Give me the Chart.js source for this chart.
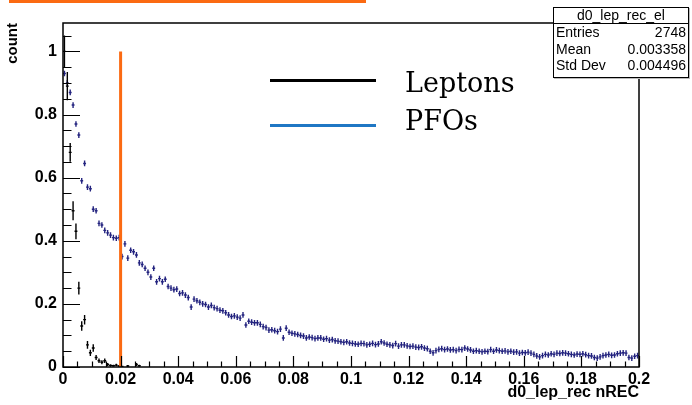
<!DOCTYPE html>
<html>
<head>
<meta charset="utf-8">
<script src="https://cdn.jsdelivr.net/npm/chart.js@4.4.1/dist/chart.umd.min.js"></script>
<style>
  html,body{margin:0;padding:0;background:#fff;}
  #wrap{position:relative;width:692px;height:405px;overflow:hidden;background:#fff;}
  canvas{position:absolute;left:0;top:0;}
  .topbar{position:absolute;left:9px;top:0;width:357px;height:3px;background:#fb6a12;}
  .stats{position:absolute;left:553px;top:7px;width:134px;height:69px;border:1px solid #000;background:#fff;
         font-family:"Liberation Sans",Arial,sans-serif;font-size:14px;color:#000;box-shadow:1px 1px 0 #bbb;}
  .stats .ttl{height:15px;line-height:15px;text-align:center;border-bottom:1px solid #000;}
  .stats .row{display:flex;justify-content:space-between;padding:0 2px;height:16.5px;line-height:17px;}
  .leg-line{position:absolute;left:270px;width:106px;height:3px;}
  .leg-txt{position:absolute;left:405px;font-family:"DejaVu Serif",serif;font-size:27px;line-height:27px;color:#000;}
</style>
</head>
<body>
<div id="wrap">
  <canvas id="c" width="692" height="405"></canvas>
  <div class="topbar"></div>
  <div class="leg-line" style="top:79px;background:#000;"></div>
  <div class="leg-line" style="top:124px;background:#1f77c4;"></div>
  <div class="leg-txt" style="top:69px;">Leptons</div>
  <div class="leg-txt" style="top:107px;">PFOs</div>
  <div class="stats">
    <div class="ttl">d0_lep_rec_el</div>
    <div class="row"><span>Entries</span><span>2748</span></div>
    <div class="row"><span>Mean</span><span>0.003358</span></div>
    <div class="row"><span>Std Dev</span><span>0.004496</span></div>
  </div>
</div>
<script>
// ---- data ----
const binWidth = 0.001;
const binStart = 0.0005;

const pfoValues = [
  0.93, 0.90, 0.87, 0.83, 0.77, 0.735, 0.59, 0.645, 0.57, 0.565,
  0.50, 0.495, 0.455, 0.45, 0.433, 0.425, 0.418, 0.41, 0.408, 0.41,
  0.35, 0.39, 0.345, 0.37, 0.365, 0.355, 0.33, 0.325, 0.313, 0.30,
  0.285, 0.313, 0.27, 0.28, 0.27, 0.278, 0.255, 0.25, 0.245, 0.247,
  0.233, 0.235, 0.228, 0.22, 0.19, 0.215, 0.21, 0.205, 0.2, 0.198,
  0.19, 0.195, 0.188, 0.185, 0.18, 0.178, 0.172, 0.165, 0.16, 0.162,
  0.158, 0.155, 0.165, 0.133, 0.145, 0.142, 0.14, 0.14, 0.135, 0.128,
  0.125, 0.117, 0.118, 0.115, 0.112, 0.12, 0.092, 0.123, 0.11, 0.107,
  0.105, 0.103, 0.1, 0.098, 0.092, 0.095, 0.093, 0.09, 0.092, 0.092,
  0.088, 0.09, 0.085, 0.087, 0.083, 0.082, 0.08, 0.078, 0.08, 0.076,
  0.075, 0.073, 0.072, 0.075, 0.074, 0.07, 0.072, 0.075, 0.071, 0.073,
  0.08, 0.076, 0.072, 0.07, 0.068, 0.074, 0.066, 0.07, 0.07, 0.067,
  0.065, 0.066, 0.063, 0.062, 0.064, 0.06, 0.058, 0.05, 0.045, 0.052,
  0.056, 0.058, 0.055, 0.057, 0.054, 0.055, 0.052, 0.056, 0.055, 0.06,
  0.057, 0.054, 0.05, 0.052, 0.05, 0.048, 0.05, 0.049, 0.055, 0.05,
  0.054, 0.052, 0.05, 0.051, 0.048, 0.05, 0.047, 0.048, 0.044, 0.046,
  0.045, 0.047, 0.044, 0.04, 0.035, 0.032, 0.036, 0.04, 0.038, 0.042,
  0.04, 0.044, 0.043, 0.045, 0.044, 0.042, 0.04, 0.038, 0.041, 0.04,
  0.042, 0.039, 0.036, 0.035, 0.03, 0.028, 0.032, 0.036, 0.038, 0.04,
  0.037, 0.038, 0.042, 0.044, 0.045, 0.044, 0.03, 0.028, 0.034, 0.036
];
const pfoError = 0.009;

const leptonValues = [
  1.0, 0.89, 0.68, 0.495, 0.43, 0.25, 0.13, 0.15, 0.07, 0.045,
  0.06, 0.03, 0.02, 0.015, 0.02, 0.008, 0.005, 0.004, 0.006, 0.003,
  0.002, null, 0.003, null, null, 0.008, 0.004
];
const leptonErrors = [
  0.05, 0.045, 0.03, 0.03, 0.025, 0.02, 0.015, 0.015, 0.012, 0.01,
  0.012, 0.008, 0.007, 0.006, 0.007, 0.005, 0.004, 0.003, 0.004, 0.003,
  0.002, 0, 0.003, 0, 0, 0.005, 0.003
];

const cutValue = 0.02;
const cutHeight = [0, 1];

const xTickValues = [0, 0.02, 0.04, 0.06, 0.08, 0.1, 0.12, 0.14, 0.16, 0.18, 0.2];
const yTickValues = [0, 0.2, 0.4, 0.6, 0.8, 1];

// ---- build ----
const toPoints = vals => vals.map((v, i) => ({x: binStart + i * binWidth, y: v}));

const errorBars = {
  id: 'errorBars',
  afterDatasetDraw(chart, args) {
    const ds = chart.data.datasets[args.index];
    if (ds.errY === undefined) return;
    const {ctx} = chart; const xs = chart.scales.x, ys = chart.scales.y;
    const a = chart.chartArea;
    ctx.save();
    ctx.beginPath(); ctx.rect(a.left, a.top, a.right - a.left, a.bottom - a.top); ctx.clip();
    ctx.strokeStyle = ds.borderColor; ctx.lineWidth = 1.4;
    ctx.beginPath();
    ds.data.forEach((p, i) => {
      if (p.y === null || p.y === undefined) return;
      const e = Array.isArray(ds.errY) ? ds.errY[i] : ds.errY;
      const px = xs.getPixelForValue(p.x), py = ys.getPixelForValue(p.y);
      ctx.moveTo(xs.getPixelForValue(p.x - binWidth / 2), py);
      ctx.lineTo(xs.getPixelForValue(p.x + binWidth / 2), py);
      ctx.moveTo(px, ys.getPixelForValue(Math.max(0, p.y - e)));
      ctx.lineTo(px, ys.getPixelForValue(p.y + e));
    });
    ctx.stroke();
    ctx.restore();
  }
};

const frame = {
  id: 'frame',
  afterDraw(chart) {
    const {ctx, chartArea: a} = chart; const xs = chart.scales.x, ys = chart.scales.y;
    ctx.save();
    ctx.strokeStyle = '#000';
    ctx.lineWidth = 1.2;
    ctx.beginPath();
    for (let k = 0; k <= 40; k++) {
      const v = k * 0.005; const px = Math.round(xs.getPixelForValue(v)) + 0.5;
      const len = (k % 4 === 0) ? 11 : 5.5;
      ctx.moveTo(px, a.bottom); ctx.lineTo(px, a.bottom - len);
    }
    for (let k = 0; k <= 21; k++) {
      const v = k * 0.05; const py = Math.round(ys.getPixelForValue(v)) + 0.5;
      const len = (k % 4 === 0) ? 17 : 8.5;
      ctx.moveTo(a.left, py); ctx.lineTo(a.left + len, py);
    }
    ctx.stroke();
    ctx.lineWidth = 1.5;
    ctx.strokeRect(a.left, a.top, a.right - a.left, a.bottom - a.top);
    ctx.restore();
  }
};

const fmt = v => String(parseFloat(Number(v).toFixed(3)));

new Chart(document.getElementById('c'), {
  data: {
    datasets: [
      {
        type: 'line', label: 'cut',
        data: cutHeight.map(h => ({x: cutValue, y: h})),
        borderColor: '#fb6a12', borderWidth: 3, pointRadius: 0, fill: false
      },
      {
        type: 'scatter', label: 'Leptons',
        data: toPoints(leptonValues), errY: leptonErrors,
        borderColor: '#000000', backgroundColor: '#000000',
        pointRadius: 0
      },
      {
        type: 'scatter', label: 'PFOs',
        data: toPoints(pfoValues), errY: pfoError,
        borderColor: '#23237f', backgroundColor: '#23237f',
        pointRadius: 0
      }
    ]
  },
  options: {
    responsive: false,
    animation: false,
    devicePixelRatio: 1,
    layout: {padding: {left: 0, right: 53, top: 23, bottom: 0}},
    plugins: {legend: {display: false}, tooltip: {enabled: false}},
    scales: {
      x: {
        type: 'linear', min: 0, max: 0.2, position: 'bottom',
        grid: {display: false, drawTicks: false},
        border: {display: false},
        afterBuildTicks: s => { s.ticks = xTickValues.map(v => ({value: v})); },
        afterFit: s => { s.height = 38; },
        ticks: {
          autoSkip: false, maxRotation: 0, padding: 3, color: '#000',
          font: {family: '"Liberation Sans", Arial, sans-serif', size: 16, weight: 'bold'},
          callback: v => fmt(v)
        },
        title: {
          display: true, text: 'd0_lep_rec nREC', align: 'end', color: '#000',
          font: {family: '"Liberation Sans", Arial, sans-serif', size: 16, weight: 'bold'},
          padding: {top: 0, bottom: 3}
        }
      },
      y: {
        type: 'linear', min: 0, max: 1.09,
        grid: {display: false, drawTicks: false},
        border: {display: false},
        afterBuildTicks: s => { s.ticks = yTickValues.map(v => ({value: v})); },
        afterFit: s => { s.width = 63; },
        ticks: {
          autoSkip: false, padding: 6, color: '#000',
          font: {family: '"Liberation Sans", Arial, sans-serif', size: 16, weight: 'bold'},
          callback: v => fmt(v)
        },
        title: {
          display: true, text: 'count', align: 'end', color: '#000',
          font: {family: '"Liberation Sans", Arial, sans-serif', size: 15, weight: 'bold'},
          padding: {top: 4, bottom: 0}
        }
      }
    }
  },
  plugins: [errorBars, frame]
});
</script>
</body>
</html>
